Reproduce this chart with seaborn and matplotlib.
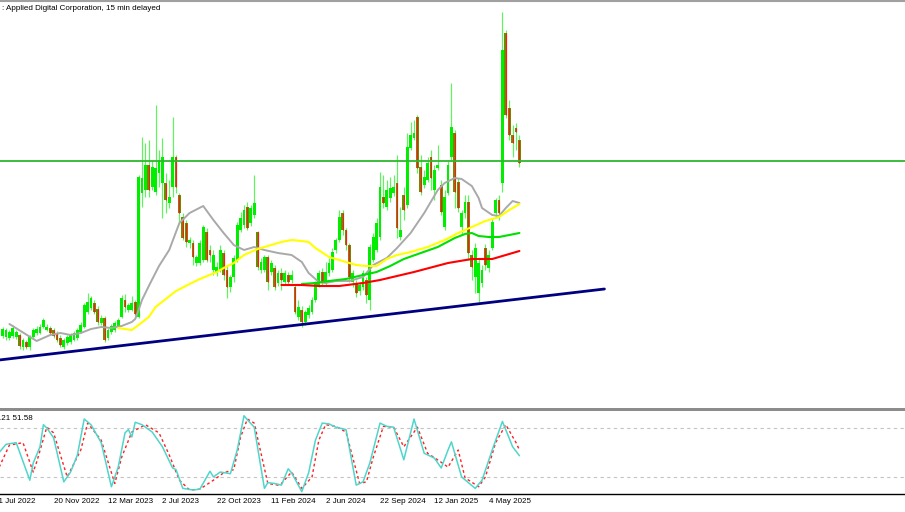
import numpy as np
import pandas as pd
import matplotlib
matplotlib.use("Agg")
import matplotlib.pyplot as plt
from matplotlib.lines import Line2D
from matplotlib.patches import Rectangle
from matplotlib.transforms import blended_transform_factory
import seaborn as sns

# ------------------------------------------------------------------
# Data: weekly candles (price level units; USD = level / 25)
# ------------------------------------------------------------------
LEVEL_PER_USD = 25.0
last_week = "2025-07-06"

opens_lvl = [64, 63, 62, 64, 63, 65, 53, 58, 53, 63,
             67, 67, 73, 70, 72, 70, 67, 62, 53, 57,
             58, 60, 62, 68, 73, 88, 92, 97, 91, 77,
             82, 62, 68, 70, 74, 83, 100, 90, 90, 98,
             83, 207, 210, 235, 213, 208, 227, 217, 217, 197,
             213, 243, 205, 183, 177, 157, 157, 137, 137, 140,
             168, 150, 130, 128, 130, 147, 130, 113, 123, 140,
             170, 175, 193, 177, 185, 168, 130, 130, 143, 128,
             132, 117, 127, 118, 125, 120, 113, 83, 90, 78,
             85, 88, 100, 115, 128, 118, 127, 130, 150, 160,
             187, 170, 155, 118, 117, 109, 113, 120, 100, 140,
             150, 163, 203, 193, 202, 207, 217, 163, 205, 195,
             252, 262, 283, 233, 215, 220, 243, 210, 232, 215,
             173, 207, 243, 267, 218, 173, 187, 198, 145, 123,
             107, 117, 152, 132, 152, 187, 200, 217, 367, 292,
             265, 272, 260]
highs_lvl = [73, 72, 70, 75, 70, 67, 62, 60, 65, 72,
             74, 76, 82, 76, 74, 72, 69, 65, 62, 65,
             67, 69, 72, 78, 97, 107, 104, 100, 94, 85,
             84, 72, 76, 79, 82, 105, 106, 97, 104, 100,
             225, 263, 257, 260, 240, 295, 250, 262, 227, 220,
             283, 245, 207, 187, 180, 163, 160, 145, 160, 175,
             172, 155, 150, 138, 155, 150, 135, 125, 145, 178,
             188, 195, 198, 195, 225, 169, 142, 145, 145, 140,
             135, 130, 132, 130, 128, 130, 115, 100, 94, 90,
             95, 103, 119, 130, 132, 138, 142, 152, 162, 190,
             190, 172, 157, 130, 120, 118, 130, 123, 156, 167,
             182, 228, 225, 220, 223, 225, 245, 193, 213, 267,
             278, 280, 285, 245, 230, 243, 250, 235, 255, 220,
             210, 240, 317, 270, 222, 190, 205, 205, 150, 157,
             142, 135, 156, 150, 182, 202, 205, 388, 370, 300,
             275, 277, 265]
lows_lvl = [62, 60, 60, 62, 61, 51, 50, 51, 50, 61,
            65, 66, 72, 69, 65, 62, 58, 53, 51, 55,
            56, 59, 60, 67, 72, 86, 90, 86, 75, 75,
            58, 60, 66, 68, 72, 82, 88, 88, 89, 84,
            82, 193, 203, 203, 210, 205, 213, 182, 187, 192,
            203, 207, 177, 160, 153, 152, 135, 134, 135, 138,
            138, 138, 125, 124, 128, 120, 102, 108, 118, 138,
            168, 172, 170, 174, 182, 130, 127, 128, 110, 125,
            110, 114, 110, 115, 115, 117, 86, 80, 73, 75,
            82, 86, 98, 113, 115, 115, 124, 128, 147, 158,
            165, 150, 118, 113, 103, 105, 110, 97, 90, 138,
            148, 160, 192, 190, 198, 204, 162, 160, 180, 192,
            250, 260, 227, 205, 212, 218, 210, 200, 230, 185,
            170, 205, 240, 192, 188, 165, 182, 140, 120, 107,
            98, 113, 130, 128, 150, 182, 180, 208, 282, 260,
            243, 250, 233]
closes_lvl = [71, 70, 68, 72, 68, 54, 60, 53, 64, 70,
              71, 73, 80, 73, 67, 64, 60, 55, 60, 63,
              65, 67, 70, 75, 95, 98, 102, 88, 78, 82,
              60, 70, 74, 77, 80, 102, 93, 95, 97, 86,
              223, 222, 235, 210, 233, 232, 240, 243, 200, 203,
              243, 213, 187, 162, 158, 160, 143, 143, 157, 173,
              140, 145, 145, 133, 150, 125, 113, 123, 142, 175,
              182, 190, 172, 192, 197, 133, 138, 143, 118, 137,
              113, 127, 120, 127, 118, 125, 88, 93, 78, 88,
              92, 100, 117, 127, 118, 128, 137, 148, 160, 183,
              170, 155, 123, 127, 107, 115, 127, 105, 153, 163,
              177, 213, 197, 210, 212, 213, 172, 170, 190, 253,
              265, 267, 232, 208, 223, 237, 222, 230, 235, 188,
              203, 235, 273, 208, 192, 187, 198, 147, 133, 152,
              137, 130, 135, 145, 178, 200, 187, 350, 285, 265,
              257, 268, 237]

# Moving averages (week index, level)
ma_gray_idx = [2, 10, 14, 17, 20, 23, 26, 29, 32, 35, 38, 39, 40, 41, 43, 46, 49, 52, 55, 59,
               62, 65, 68, 71, 74, 77, 81, 85, 88, 90, 93, 95, 98, 102, 106, 109, 113, 116, 120, 124,
               128, 130, 133, 135, 138, 140, 141, 144, 146, 148, 150, 152]
ma_gray_lvl = [76, 59, 65, 67, 65, 67, 71, 73, 72, 74, 78, 81, 90, 100, 114, 134, 150, 177, 187, 194,
               180, 167, 155, 150, 153, 150, 147, 145, 138, 127, 118, 117, 119, 119, 123, 135, 142, 152, 167, 187,
               210, 217, 222, 221, 214, 202, 192, 185, 184, 192, 199, 197]
ma_yellow_idx = [34, 36, 38, 40, 43, 45, 48, 51, 55, 58, 63, 65, 68, 71, 75, 79, 82, 85, 88, 90,
                 92, 96, 100, 104, 107, 110, 113, 116, 120, 125, 130, 134, 138, 142, 146, 149, 152]
ma_yellow_lvl = [72, 71, 70, 75, 83, 93, 101, 109, 116, 121, 128, 132, 137, 145, 151, 155, 158, 160, 159, 158,
                 152, 143, 139, 135, 134, 134, 141, 145, 148, 153, 160, 167, 173, 179, 183, 190, 196]
ma_green_idx = [88, 92, 96, 101, 106, 110, 114, 118, 123, 128, 133, 136, 138, 140, 143, 146, 149, 152]
ma_green_lvl = [116, 117, 119, 121, 125, 128, 134, 141, 147, 153, 162, 166, 167, 164, 163, 163, 165, 167]
ma_red_idx = [82, 88, 93, 99, 106, 111, 121, 131, 138, 144, 147, 152]
ma_red_lvl = [115, 115, 114, 114, 117, 120, 128, 137, 141, 141, 144, 149]

# Horizontal resistance and rising trend line
resistance_lvl = 239
trend_idx = [-1, 177]
trend_lvl = [40, 111]

# Stochastic oscillator (week index, value)
stoch_k_idx = [-1, 1, 4, 8, 9, 11, 12, 13, 15, 18, 20, 22, 24, 26, 29, 32, 34, 36, 37, 38,
               39, 41, 44, 47, 50, 51, 53, 56, 58, 61, 62, 64, 67, 69, 71, 72, 74, 77, 78, 80,
               82, 84, 85, 88, 90, 92, 94, 96, 98, 101, 104, 106, 108, 111, 113, 115, 118, 121, 124, 127,
               129, 131, 132, 135, 139, 141, 144, 147, 150, 152]
stoch_k = [50, 60, 62, 16, 37, 57, 84, 80, 68, 14, 26, 47, 91, 84, 62, 8, 32, 74, 78, 69,
           87, 84, 75, 57, 31, 29, 6, 4, 5, 27, 20, 26, 24, 53, 95, 90, 81, 6, 13, 12,
           10, 30, 25, 2, 25, 65, 86, 85, 81, 78, 10, 14, 37, 86, 82, 81, 41, 91, 49, 43,
           31, 53, 63, 20, 6, 16, 53, 88, 57, 46]
stoch_d_idx = [-1, 2, 6, 9, 10, 13, 15, 19, 23, 25, 29, 33, 35, 38, 42, 46, 49, 52, 55, 58,
               62, 65, 68, 70, 72, 74, 78, 81, 82, 85, 88, 91, 93, 95, 98, 101, 105, 107, 109, 112,
               115, 118, 122, 125, 129, 131, 134, 136, 140, 142, 145, 148, 151, 152]
stoch_d = [32, 59, 62, 26, 38, 81, 74, 20, 53, 86, 65, 12, 44, 75, 84, 74, 47, 16, 4, 5,
           16, 25, 29, 69, 91, 86, 12, 10, 12, 26, 6, 20, 65, 84, 82, 75, 12, 14, 44, 82,
           81, 57, 81, 49, 38, 32, 53, 19, 8, 20, 62, 84, 62, 53]
stoch_levels = [20, 80]

tick_labels = ["21 Jul 2022", "20 Nov 2022", "12 Mar 2023", "2 Jul 2023", "22 Oct 2023",
               "11 Feb 2024", "2 Jun 2024", "22 Sep 2024", "12 Jan 2025", "4 May 2025"]

title_text = ": Applied Digital Corporation, 15 min delayed"
stoch_text = "46.21 51.58"

# ------------------------------------------------------------------
sns.set_theme(style="white")
plt.rcParams['font.family'] = ['Liberation Sans', 'DejaVu Sans']

W, H = 905, 512
fig = plt.figure(figsize=(W / 100, H / 100), dpi=100)
fig.patch.set_facecolor("white")

ax = fig.add_axes([0, 1 - 408 / H, 1, 404 / H])
ax2 = fig.add_axes([0, 1 - 494 / H, 1, 83 / H])

o = np.array(opens_lvl) / LEVEL_PER_USD
h = np.array(highs_lvl) / LEVEL_PER_USD
l = np.array(lows_lvl) / LEVEL_PER_USD
c = np.array(closes_lvl) / LEVEL_PER_USD
idx = np.arange(len(o))
bull = c >= o

# wicks
ax.vlines(idx, l, h, color="#5cf55c", lw=0.85, zorder=2)
# bodies
ax.bar(idx[bull], np.maximum(c - o, 0.04)[bull], bottom=o[bull], width=0.85,
       color="#00ee00", linewidth=0, zorder=3)
ax.bar(idx[~bull], np.maximum(o - c, 0.04)[~bull], bottom=c[~bull], width=0.85,
       color="#6f8c00", linewidth=0, zorder=3)
ax.vlines(idx[~bull], c[~bull], o[~bull], color="#ff1a1a", lw=0.8, zorder=4)

# moving averages
sns.lineplot(x=ma_gray_idx, y=np.array(ma_gray_lvl) / LEVEL_PER_USD, ax=ax,
             color="#a9a9a9", lw=1.4, zorder=5)
sns.lineplot(x=ma_yellow_idx, y=np.array(ma_yellow_lvl) / LEVEL_PER_USD, ax=ax,
             color="#ffff00", lw=1.5, zorder=5)
sns.lineplot(x=ma_green_idx, y=np.array(ma_green_lvl) / LEVEL_PER_USD, ax=ax,
             color="#00e000", lw=1.5, zorder=5)
sns.lineplot(x=ma_red_idx, y=np.array(ma_red_lvl) / LEVEL_PER_USD, ax=ax,
             color="#ff0000", lw=1.5, zorder=5)

# resistance & trend line
ax.axhline(resistance_lvl / LEVEL_PER_USD, color="#2cb82c", lw=1.3, zorder=6)
sns.lineplot(x=trend_idx, y=np.array(trend_lvl) / LEVEL_PER_USD, ax=ax,
             color="#000080", lw=2.0, zorder=6)

xmin, xmax = -0.765, 265.4
ax.set_xlim(xmin, xmax)
ax.set_ylim(-8 / LEVEL_PER_USD, 396 / LEVEL_PER_USD)

# stochastic panel
for lv in stoch_levels:
    ax2.axhline(lv, color="#c4c4c4", lw=0.8, ls=(0, (3, 3)), zorder=1)
sns.lineplot(x=stoch_d_idx, y=stoch_d, ax=ax2, color="#ff2020", lw=1.0,
             linestyle=(0, (2, 2)), zorder=3)
sns.lineplot(x=stoch_k_idx, y=stoch_k, ax=ax2, color="#4fd6cc", lw=1.1, zorder=4)
ax2.set_xlim(xmin, xmax)
ax2.set_ylim(-0.9, 100.8)

for a in (ax, ax2):
    a.set_xlabel("")
    a.set_ylabel("")
    a.set_xticks([])
    a.set_yticks([])
    for s in a.spines.values():
        s.set_visible(False)
    a.set_facecolor("white")
ax2.spines["bottom"].set_visible(True)
ax2.spines["bottom"].set_color("black")
ax2.spines["bottom"].set_linewidth(1.0)

# date labels
last = pd.Timestamp(last_week)
n_last = len(o) - 1
trans = blended_transform_factory(ax2.transData, ax2.transAxes)
for lab in tick_labels:
    d = pd.Timestamp(lab)
    pos = n_last + (d - last).days / 7.0
    ax2.text(pos, -0.085, lab, transform=trans, ha="left", va="center",
             fontsize=5.8, color="black", clip_on=False)

# frame decorations
fig.add_artist(Line2D([0, 1], [1 - 1.2 / H, 1 - 1.2 / H], color="#a0a0a0", lw=1.5))
fig.add_artist(Rectangle((0, 1 - 411 / H), 1, 3 / H, color="#8c8c8c", lw=0))

fig.text(2.5 / W, 1 - 8.5 / H, title_text, fontsize=5.8, ha="left", va="center", color="black")
fig.text(33 / W, 1 - 418 / H, stoch_text, fontsize=5.8, ha="right", va="center", color="black")

fig.savefig("out.png", dpi=100)
